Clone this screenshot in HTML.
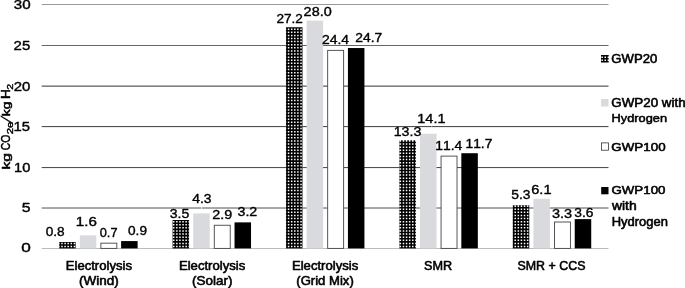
<!DOCTYPE html>
<html><head><meta charset="utf-8"><title>GWP chart</title>
<style>
html,body{margin:0;padding:0;background:#fff;}
body{width:685px;height:288px;overflow:hidden;}
svg{display:block;font-family:"Liberation Sans", Arial, sans-serif;font-kerning:none;}
svg text{font-kerning:none;}
</style></head><body>
<svg width="685" height="288" viewBox="0 0 685 288">
<rect width="685" height="288" fill="#fff"/>
<rect x="41.7" y="4" width="566.8" height="1" fill="#999"/>
<rect x="41.7" y="45" width="566.8" height="1" fill="#666"/>
<rect x="41.7" y="85" width="566.8" height="1" fill="#b0b0b0"/>
<rect x="41.7" y="86" width="566.8" height="1" fill="#808080"/>
<rect x="41.7" y="126" width="566.8" height="1" fill="#505050"/>
<rect x="41.7" y="127" width="566.8" height="1" fill="#ececec"/>
<rect x="41.7" y="167" width="566.8" height="1" fill="#505050"/>
<rect x="41.7" y="168" width="566.8" height="1" fill="#f0f0f0"/>
<rect x="41.7" y="207" width="566.8" height="1" fill="#aaa"/>
<rect x="41.7" y="208" width="566.8" height="1" fill="#a6a6a6"/>
<rect x="41.7" y="248" width="566.8" height="1" fill="#bbb"/>
<rect x="59.18" y="241.89" width="16.50" height="6.51" fill="#fff"/>
<path fill="#000" d="M59.62 241.89H61.22V248.40H59.62ZM62.72 241.89H64.33V248.40H62.72ZM65.83 241.89H67.43V248.40H65.83ZM68.93 241.89H70.54V248.40H68.93ZM72.04 241.89H73.64V248.40H72.04ZM75.14 241.89H75.68V248.40H75.14ZM59.18 241.89H75.68V242.65H59.18ZM59.18 244.15H75.68V245.75H59.18ZM59.18 247.25H75.68V248.40H59.18Z"/>
<rect x="79.83" y="235.38" width="16.5" height="13.02" fill="#d9dadd"/>
<rect x="100.88" y="243.16" width="15.95" height="5.24" fill="#fff" stroke="#444" stroke-width="0.9"/>
<rect x="121.12" y="241.08" width="16.5" height="7.32" fill="#000"/>
<rect x="172.58" y="219.93" width="16.50" height="28.47" fill="#fff"/>
<path fill="#000" d="M172.58 219.93H172.98V248.40H172.58ZM174.48 219.93H176.09V248.40H174.48ZM177.59 219.93H179.19V248.40H177.59ZM180.69 219.93H182.30V248.40H180.69ZM183.80 219.93H185.40V248.40H183.80ZM186.90 219.93H188.51V248.40H186.90ZM172.58 219.93H189.08V220.91H172.58ZM172.58 222.41H189.08V224.02H172.58ZM172.58 225.52H189.08V227.12H172.58ZM172.58 228.62H189.08V230.23H172.58ZM172.58 231.73H189.08V233.33H172.58ZM172.58 234.83H189.08V236.44H172.58ZM172.58 237.94H189.08V239.54H172.58ZM172.58 241.04H189.08V242.65H172.58ZM172.58 244.15H189.08V245.75H172.58ZM172.58 247.25H189.08V248.40H172.58Z"/>
<rect x="193.23" y="213.42" width="16.5" height="34.98" fill="#d9dadd"/>
<rect x="214.28" y="225.26" width="15.95" height="23.14" fill="#fff" stroke="#444" stroke-width="0.9"/>
<rect x="234.53" y="222.37" width="16.5" height="26.03" fill="#000"/>
<rect x="285.97" y="27.13" width="16.50" height="221.27" fill="#fff"/>
<path fill="#000" d="M286.25 27.13H287.85V248.40H286.25ZM289.35 27.13H290.95V248.40H289.35ZM292.45 27.13H294.06V248.40H292.45ZM295.56 27.13H297.16V248.40H295.56ZM298.66 27.13H300.27V248.40H298.66ZM301.77 27.13H302.47V248.40H301.77ZM285.97 27.13H302.47V28.44H285.97ZM285.97 29.94H302.47V31.54H285.97ZM285.97 33.04H302.47V34.64H285.97ZM285.97 36.14H302.47V37.75H285.97ZM285.97 39.25H302.47V40.85H285.97ZM285.97 42.35H302.47V43.96H285.97ZM285.97 45.46H302.47V47.06H285.97ZM285.97 48.56H302.47V50.17H285.97ZM285.97 51.67H302.47V53.27H285.97ZM285.97 54.77H302.47V56.38H285.97ZM285.97 57.88H302.47V59.48H285.97ZM285.97 60.98H302.47V62.58H285.97ZM285.97 64.08H302.47V65.69H285.97ZM285.97 67.19H302.47V68.79H285.97ZM285.97 70.29H302.47V71.90H285.97ZM285.97 73.40H302.47V75.00H285.97ZM285.97 76.50H302.47V78.11H285.97ZM285.97 79.61H302.47V81.21H285.97ZM285.97 82.71H302.47V84.32H285.97ZM285.97 85.82H302.47V87.42H285.97ZM285.97 88.92H302.47V90.53H285.97ZM285.97 92.03H302.47V93.63H285.97ZM285.97 95.13H302.47V96.73H285.97ZM285.97 98.23H302.47V99.84H285.97ZM285.97 101.34H302.47V102.94H285.97ZM285.97 104.44H302.47V106.05H285.97ZM285.97 107.55H302.47V109.15H285.97ZM285.97 110.65H302.47V112.26H285.97ZM285.97 113.76H302.47V115.36H285.97ZM285.97 116.86H302.47V118.47H285.97ZM285.97 119.97H302.47V121.57H285.97ZM285.97 123.07H302.47V124.67H285.97ZM285.97 126.17H302.47V127.78H285.97ZM285.97 129.28H302.47V130.88H285.97ZM285.97 132.38H302.47V133.99H285.97ZM285.97 135.49H302.47V137.09H285.97ZM285.97 138.59H302.47V140.20H285.97ZM285.97 141.70H302.47V143.30H285.97ZM285.97 144.80H302.47V146.41H285.97ZM285.97 147.91H302.47V149.51H285.97ZM285.97 151.01H302.47V152.61H285.97ZM285.97 154.12H302.47V155.72H285.97ZM285.97 157.22H302.47V158.82H285.97ZM285.97 160.32H302.47V161.93H285.97ZM285.97 163.43H302.47V165.03H285.97ZM285.97 166.53H302.47V168.14H285.97ZM285.97 169.64H302.47V171.24H285.97ZM285.97 172.74H302.47V174.35H285.97ZM285.97 175.85H302.47V177.45H285.97ZM285.97 178.95H302.47V180.56H285.97ZM285.97 182.06H302.47V183.66H285.97ZM285.97 185.16H302.47V186.76H285.97ZM285.97 188.26H302.47V189.87H285.97ZM285.97 191.37H302.47V192.97H285.97ZM285.97 194.47H302.47V196.08H285.97ZM285.97 197.58H302.47V199.18H285.97ZM285.97 200.68H302.47V202.29H285.97ZM285.97 203.79H302.47V205.39H285.97ZM285.97 206.89H302.47V208.50H285.97ZM285.97 210.00H302.47V211.60H285.97ZM285.97 213.10H302.47V214.70H285.97ZM285.97 216.21H302.47V217.81H285.97ZM285.97 219.31H302.47V220.91H285.97ZM285.97 222.41H302.47V224.02H285.97ZM285.97 225.52H302.47V227.12H285.97ZM285.97 228.62H302.47V230.23H285.97ZM285.97 231.73H302.47V233.33H285.97ZM285.97 234.83H302.47V236.44H285.97ZM285.97 237.94H302.47V239.54H285.97ZM285.97 241.04H302.47V242.65H285.97ZM285.97 244.15H302.47V245.75H285.97ZM285.97 247.25H302.47V248.40H285.97Z"/>
<rect x="306.62" y="20.62" width="16.5" height="227.78" fill="#d9dadd"/>
<rect x="327.67" y="50.36" width="15.95" height="198.04" fill="#fff" stroke="#444" stroke-width="0.9"/>
<rect x="347.93" y="48.03" width="16.5" height="200.37" fill="#000"/>
<rect x="399.38" y="140.20" width="16.50" height="108.20" fill="#fff"/>
<path fill="#000" d="M399.38 140.20H399.61V248.40H399.38ZM401.11 140.20H402.72V248.40H401.11ZM404.22 140.20H405.82V248.40H404.22ZM407.32 140.20H408.93V248.40H407.32ZM410.43 140.20H412.03V248.40H410.43ZM413.53 140.20H415.13V248.40H413.53ZM399.38 141.70H415.88V143.30H399.38ZM399.38 144.80H415.88V146.41H399.38ZM399.38 147.91H415.88V149.51H399.38ZM399.38 151.01H415.88V152.61H399.38ZM399.38 154.12H415.88V155.72H399.38ZM399.38 157.22H415.88V158.82H399.38ZM399.38 160.32H415.88V161.93H399.38ZM399.38 163.43H415.88V165.03H399.38ZM399.38 166.53H415.88V168.14H399.38ZM399.38 169.64H415.88V171.24H399.38ZM399.38 172.74H415.88V174.35H399.38ZM399.38 175.85H415.88V177.45H399.38ZM399.38 178.95H415.88V180.56H399.38ZM399.38 182.06H415.88V183.66H399.38ZM399.38 185.16H415.88V186.76H399.38ZM399.38 188.26H415.88V189.87H399.38ZM399.38 191.37H415.88V192.97H399.38ZM399.38 194.47H415.88V196.08H399.38ZM399.38 197.58H415.88V199.18H399.38ZM399.38 200.68H415.88V202.29H399.38ZM399.38 203.79H415.88V205.39H399.38ZM399.38 206.89H415.88V208.50H399.38ZM399.38 210.00H415.88V211.60H399.38ZM399.38 213.10H415.88V214.70H399.38ZM399.38 216.21H415.88V217.81H399.38ZM399.38 219.31H415.88V220.91H399.38ZM399.38 222.41H415.88V224.02H399.38ZM399.38 225.52H415.88V227.12H399.38ZM399.38 228.62H415.88V230.23H399.38ZM399.38 231.73H415.88V233.33H399.38ZM399.38 234.83H415.88V236.44H399.38ZM399.38 237.94H415.88V239.54H399.38ZM399.38 241.04H415.88V242.65H399.38ZM399.38 244.15H415.88V245.75H399.38ZM399.38 247.25H415.88V248.40H399.38Z"/>
<rect x="420.03" y="133.70" width="16.5" height="114.70" fill="#d9dadd"/>
<rect x="441.07" y="156.11" width="15.95" height="92.29" fill="#fff" stroke="#444" stroke-width="0.9"/>
<rect x="461.33" y="153.22" width="16.5" height="95.18" fill="#000"/>
<rect x="512.77" y="205.28" width="16.50" height="43.12" fill="#fff"/>
<path fill="#000" d="M512.87 205.28H514.48V248.40H512.87ZM515.98 205.28H517.58V248.40H515.98ZM519.08 205.28H520.69V248.40H519.08ZM522.19 205.28H523.79V248.40H522.19ZM525.29 205.28H526.90V248.40H525.29ZM528.40 205.28H529.27V248.40H528.40ZM512.77 205.28H529.27V205.39H512.77ZM512.77 206.89H529.27V208.50H512.77ZM512.77 210.00H529.27V211.60H512.77ZM512.77 213.10H529.27V214.70H512.77ZM512.77 216.21H529.27V217.81H512.77ZM512.77 219.31H529.27V220.91H512.77ZM512.77 222.41H529.27V224.02H512.77ZM512.77 225.52H529.27V227.12H512.77ZM512.77 228.62H529.27V230.23H512.77ZM512.77 231.73H529.27V233.33H512.77ZM512.77 234.83H529.27V236.44H512.77ZM512.77 237.94H529.27V239.54H512.77ZM512.77 241.04H529.27V242.65H512.77ZM512.77 244.15H529.27V245.75H512.77ZM512.77 247.25H529.27V248.40H512.77Z"/>
<rect x="533.42" y="198.78" width="16.5" height="49.62" fill="#d9dadd"/>
<rect x="554.48" y="222.00" width="15.95" height="26.40" fill="#fff" stroke="#444" stroke-width="0.9"/>
<rect x="574.73" y="219.11" width="16.5" height="29.29" fill="#000"/>
<text transform="translate(13.77,9.45) scale(1.2457,1)" font-size="12.17" font-weight="normal" fill="#000" stroke="#000" stroke-width="0.38" stroke-linejoin="round">30</text>
<text transform="translate(13.60,50.35) scale(1.2320,1)" font-size="12.17" font-weight="normal" fill="#000" stroke="#000" stroke-width="0.38" stroke-linejoin="round">25</text>
<text transform="translate(13.70,90.85) scale(1.2431,1)" font-size="12.03" font-weight="normal" fill="#000" stroke="#000" stroke-width="0.38" stroke-linejoin="round">20</text>
<text transform="translate(13.52,130.65) scale(1.2227,1)" font-size="12.17" font-weight="normal" fill="#000" stroke="#000" stroke-width="0.38" stroke-linejoin="round">15</text>
<text transform="translate(14.04,171.85) scale(1.2027,1)" font-size="12.17" font-weight="normal" fill="#000" stroke="#000" stroke-width="0.38" stroke-linejoin="round">10</text>
<text transform="translate(21.82,211.65) scale(1.3144,1)" font-size="12.03" font-weight="normal" fill="#000" stroke="#000" stroke-width="0.38" stroke-linejoin="round">5</text>
<text transform="translate(21.28,252.35) scale(1.4254,1)" font-size="12.03" font-weight="normal" fill="#000" stroke="#000" stroke-width="0.38" stroke-linejoin="round">0</text>
<rect x="201.0" y="206.5" width="0.8" height="2.6" fill="#fff" fill-opacity="0.85"/>
<rect x="431.05" y="125.5" width="0.7" height="2" fill="#fff" fill-opacity="0.6"/>
<text transform="translate(45.71,235.76) scale(1.1170,1)" font-size="12.19" font-weight="normal" fill="#000" stroke="#000" stroke-width="0.36" stroke-linejoin="round">0.8</text>
<text transform="translate(75.79,226.46) scale(1.2469,1)" font-size="12.19" font-weight="normal" fill="#000" stroke="#000" stroke-width="0.36" stroke-linejoin="round">1.6</text>
<text transform="translate(99.75,237.46) scale(1.0472,1)" font-size="12.19" font-weight="normal" fill="#000" stroke="#000" stroke-width="0.36" stroke-linejoin="round">0.7</text>
<text transform="translate(128.01,234.86) scale(1.1204,1)" font-size="12.19" font-weight="normal" fill="#000" stroke="#000" stroke-width="0.36" stroke-linejoin="round">0.9</text>
<text transform="translate(169.81,218.36) scale(1.1525,1)" font-size="12.19" font-weight="normal" fill="#000" stroke="#000" stroke-width="0.36" stroke-linejoin="round">3.5</text>
<text transform="translate(192.22,203.46) scale(1.1410,1)" font-size="12.19" font-weight="normal" fill="#000" stroke="#000" stroke-width="0.36" stroke-linejoin="round">4.3</text>
<text transform="translate(212.32,219.26) scale(1.1808,1)" font-size="12.19" font-weight="normal" fill="#000" stroke="#000" stroke-width="0.36" stroke-linejoin="round">2.9</text>
<text transform="translate(237.50,215.76) scale(1.1661,1)" font-size="12.19" font-weight="normal" fill="#000" stroke="#000" stroke-width="0.36" stroke-linejoin="round">3.2</text>
<text transform="translate(276.46,22.66) scale(1.1157,1)" font-size="12.19" font-weight="normal" fill="#000" stroke="#000" stroke-width="0.36" stroke-linejoin="round">27.2</text>
<text transform="translate(303.62,15.66) scale(1.1840,1)" font-size="12.19" font-weight="normal" fill="#000" stroke="#000" stroke-width="0.36" stroke-linejoin="round">28.0</text>
<text transform="translate(321.94,43.66) scale(1.1427,1)" font-size="12.19" font-weight="normal" fill="#000" stroke="#000" stroke-width="0.36" stroke-linejoin="round">24.4</text>
<text transform="translate(355.25,41.86) scale(1.1379,1)" font-size="12.19" font-weight="normal" fill="#000" stroke="#000" stroke-width="0.36" stroke-linejoin="round">24.7</text>
<text transform="translate(393.66,135.56) scale(1.1680,1)" font-size="12.19" font-weight="normal" fill="#000" stroke="#000" stroke-width="0.36" stroke-linejoin="round">13.3</text>
<text transform="translate(417.34,122.96) scale(1.1847,1)" font-size="12.19" font-weight="normal" fill="#000" stroke="#000" stroke-width="0.36" stroke-linejoin="round">14.1</text>
<text transform="translate(435.18,150.46) scale(1.1454,1)" font-size="12.19" font-weight="normal" fill="#000" stroke="#000" stroke-width="0.36" stroke-linejoin="round">11.4</text>
<text transform="translate(465.49,148.06) scale(1.1316,1)" font-size="12.19" font-weight="normal" fill="#000" stroke="#000" stroke-width="0.36" stroke-linejoin="round">11.7</text>
<text transform="translate(511.19,199.16) scale(1.1371,1)" font-size="12.19" font-weight="normal" fill="#000" stroke="#000" stroke-width="0.36" stroke-linejoin="round">5.3</text>
<text transform="translate(531.20,193.56) scale(1.2017,1)" font-size="12.19" font-weight="normal" fill="#000" stroke="#000" stroke-width="0.36" stroke-linejoin="round">6.1</text>
<text transform="translate(551.99,218.06) scale(1.1918,1)" font-size="12.19" font-weight="normal" fill="#000" stroke="#000" stroke-width="0.36" stroke-linejoin="round">3.3</text>
<text transform="translate(574.32,216.96) scale(1.1354,1)" font-size="12.19" font-weight="normal" fill="#000" stroke="#000" stroke-width="0.36" stroke-linejoin="round">3.6</text>
<text transform="translate(65.75,269.58) scale(1.0673,1)" font-size="12.28" font-weight="normal" fill="#000" stroke="#000" stroke-width="0.56" stroke-linejoin="round">Electrolysis</text>
<text transform="translate(79.09,284.88) scale(1.1012,1)" font-size="12.28" font-weight="normal" fill="#000" stroke="#000" stroke-width="0.56" stroke-linejoin="round">(Wind)</text>
<text transform="translate(178.95,269.58) scale(1.0690,1)" font-size="12.28" font-weight="normal" fill="#000" stroke="#000" stroke-width="0.56" stroke-linejoin="round">Electrolysis</text>
<text transform="translate(192.09,284.88) scale(1.0995,1)" font-size="12.28" font-weight="normal" fill="#000" stroke="#000" stroke-width="0.56" stroke-linejoin="round">(Solar)</text>
<text transform="translate(291.95,269.58) scale(1.0690,1)" font-size="12.28" font-weight="normal" fill="#000" stroke="#000" stroke-width="0.56" stroke-linejoin="round">Electrolysis</text>
<text transform="translate(296.31,284.88) scale(1.0662,1)" font-size="12.28" font-weight="normal" fill="#000" stroke="#000" stroke-width="0.56" stroke-linejoin="round">(Grid Mix)</text>
<text transform="translate(424.05,269.58) scale(1.0317,1)" font-size="12.28" font-weight="normal" fill="#000" stroke="#000" stroke-width="0.56" stroke-linejoin="round">SMR</text>
<text transform="translate(517.46,269.58) scale(1.0127,1)" font-size="12.28" font-weight="normal" fill="#000" stroke="#000" stroke-width="0.56" stroke-linejoin="round">SMR + CCS</text>
<rect x="601.00" y="55.10" width="7.70" height="7.40" fill="#fff"/>
<path fill="#000" d="M601.00 55.10H601.40V62.50H601.00ZM602.90 55.10H604.51V62.50H602.90ZM606.01 55.10H607.61V62.50H606.01ZM601.00 55.10H608.70V56.38H601.00ZM601.00 57.88H608.70V59.48H601.00ZM601.00 60.98H608.70V62.50H601.00Z"/>
<rect x="601.1" y="99.0" width="7.4" height="7.5" fill="#d9dadd"/>
<rect x="601.5" y="142.9" width="7.0" height="7.3" fill="#fff" stroke="#333" stroke-width="0.8"/>
<rect x="601.2" y="187.0" width="7.3" height="7.3" fill="#000"/>
<text transform="translate(611.36,62.88) scale(1.1071,1)" font-size="11.85" font-weight="normal" fill="#000" stroke="#000" stroke-width="0.56" stroke-linejoin="round">GWP20</text>
<text transform="translate(611.35,106.58) scale(1.1283,1)" font-size="11.85" font-weight="normal" fill="#000" stroke="#000" stroke-width="0.56" stroke-linejoin="round">GWP20 with</text>
<text transform="translate(611.57,122.38) scale(1.0809,1)" font-size="11.85" font-weight="normal" fill="#000" stroke="#000" stroke-width="0.56" stroke-linejoin="round">Hydrogen</text>
<text transform="translate(611.35,150.58) scale(1.1284,1)" font-size="11.85" font-weight="normal" fill="#000" stroke="#000" stroke-width="0.56" stroke-linejoin="round">GWP100</text>
<text transform="translate(611.45,194.18) scale(1.1242,1)" font-size="11.85" font-weight="normal" fill="#000" stroke="#000" stroke-width="0.56" stroke-linejoin="round">GWP100</text>
<text transform="translate(611.94,210.18) scale(1.1739,1)" font-size="11.85" font-weight="normal" fill="#000" stroke="#000" stroke-width="0.56" stroke-linejoin="round">with</text>
<text transform="translate(611.66,225.78) scale(1.0950,1)" font-size="11.85" font-weight="normal" fill="#000" stroke="#000" stroke-width="0.56" stroke-linejoin="round">Hydrogen</text>
<g transform="translate(9.9,168.7) rotate(-90)">
<text transform="translate(-0.85,-0.20) scale(1.4569,1)" font-size="10.69" font-weight="normal" fill="#000" stroke="#000" stroke-width="0.50" stroke-linejoin="round">kg</text>
<text transform="translate(18.37,-0.20) scale(0.8636,1)" font-size="12.06" font-weight="normal" fill="#000" stroke="#000" stroke-width="0.50" stroke-linejoin="round">CO</text>
<text transform="translate(34.39,3.14) scale(1.3509,1)" font-size="8.42" font-weight="normal" fill="#000" stroke="#000" stroke-width="0.40" stroke-linejoin="round">2e</text>
<text transform="translate(52.46,-0.20) scale(1.3051,1)" font-size="10.69" font-weight="normal" fill="#000" stroke="#000" stroke-width="0.50" stroke-linejoin="round">kg</text>
<text transform="translate(69.78,-0.20) scale(1.1278,1)" font-size="12.06" font-weight="normal" fill="#000" stroke="#000" stroke-width="0.50" stroke-linejoin="round">H</text>
<text transform="translate(78.92,3.14) scale(1.2716,1)" font-size="8.42" font-weight="normal" fill="#000" stroke="#000" stroke-width="0.40" stroke-linejoin="round">2</text>
<text transform="translate(44.9,1.6) skewX(-19)" font-size="15.4" stroke="#000" stroke-width="0.3">/</text>
</g>
</svg>
</body></html>
